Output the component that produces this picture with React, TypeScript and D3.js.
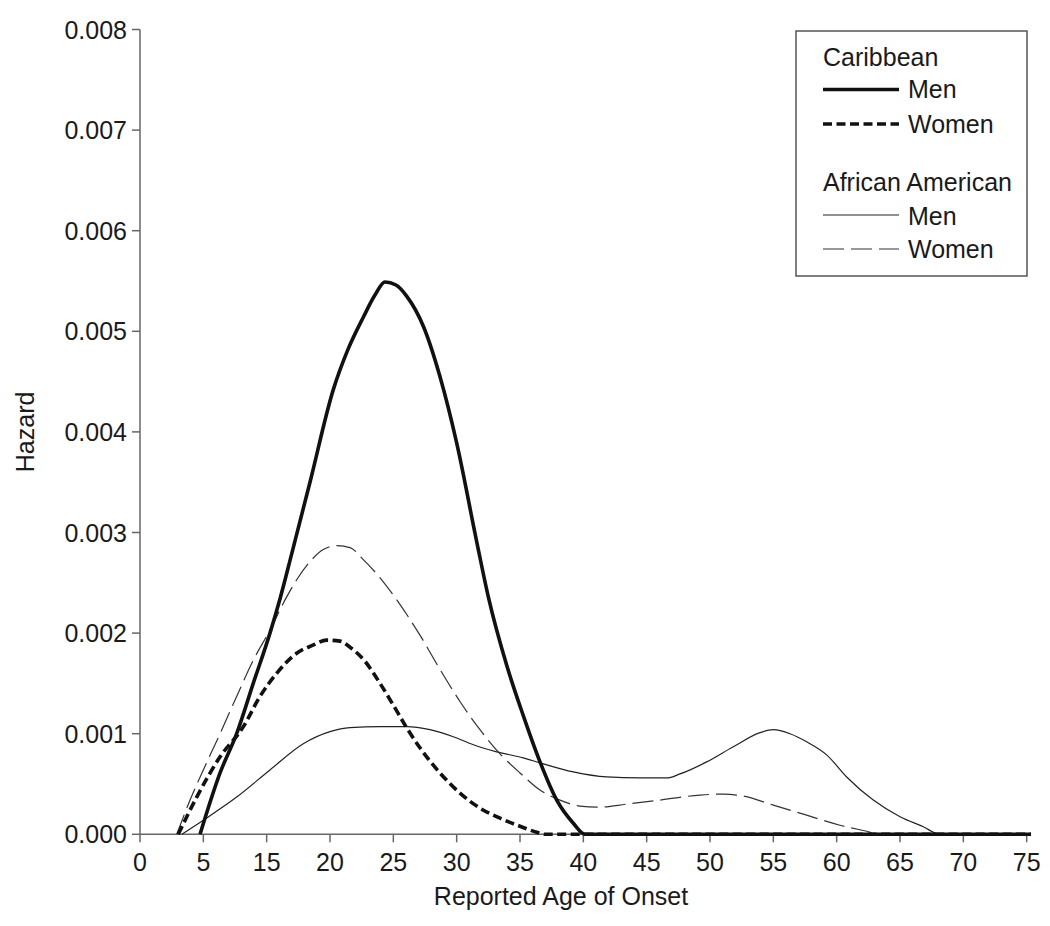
import React from 'react';
import * as d3 from 'd3';

// Axis ticks (the x tick labels are reproduced exactly as printed)
const xTickValues = [0, 5, 10, 15, 20, 25, 30, 35, 40, 45, 50, 55, 60, 65, 70];
const xTickLabels = ['0', '5', '15', '20', '25', '30', '35', '40', '45', '50', '55', '60', '65', '70', '75'];
const yTickValues = [0, 0.001, 0.002, 0.003, 0.004, 0.005, 0.006, 0.007, 0.008];

// Caribbean men
const caribbeanMenAge = [4.74, 6.32, 7.63, 8.94, 10.26, 11.05, 12.0, 13.42, 15.26, 16.42, 17.63, 18.55, 19.34, 20.21, 21.05, 22.37, 23.68, 25.0, 26.58, 27.5, 28.95, 30.26, 31.58, 32.9, 34.21, 35.13, 70.34];
const caribbeanMenHazard = [0, 0.00061, 0.001, 0.0015, 0.002, 0.00234, 0.0028, 0.0035, 0.00442, 0.00482, 0.00514, 0.00536, 0.00549, 0.00546, 0.00535, 0.00505, 0.00455, 0.00389, 0.00291, 0.00236, 0.00168, 0.00118, 0.00072, 0.00034, 0.00011, 0, 0];

// Caribbean women
const caribbeanWomenAge = [3.02, 4.48, 6.32, 8.16, 9.47, 10.79, 12.37, 13.66, 14.74, 15.79, 16.58, 17.76, 18.95, 19.97, 21.05, 22.1, 23.68, 25.26, 26.84, 28.42, 30.0, 31.32, 31.97, 70.34];
const caribbeanWomenHazard = [0, 0.00037, 0.00077, 0.00107, 0.00137, 0.0016, 0.0018, 0.00188, 0.00193, 0.00192, 0.00186, 0.00172, 0.0015, 0.00129, 0.00106, 0.00086, 0.00061, 0.00041, 0.00026, 0.00016, 0.00008, 0.00002, 0, 0];

// African American men
const aaMenAge = [3.3, 5.0, 7.63, 10.26, 12.89, 15.0, 16.58, 18.95, 21.05, 22.89, 24.74, 26.32, 28.16, 30.26, 31.58, 34.21, 36.84, 39.47, 41.58, 42.63, 44.74, 46.84, 48.95, 50.0, 51.32, 52.63, 54.21, 55.79, 57.89, 60.0, 61.84, 63.16, 70.34];
const aaMenHazard = [0, 0.00014, 0.00037, 0.00064, 0.0009, 0.00102, 0.00106, 0.00107, 0.00107, 0.00104, 0.00097, 0.00089, 0.00082, 0.00076, 0.00071, 0.00062, 0.00057, 0.00056, 0.00056, 0.0006, 0.00072, 0.00087, 0.00101, 0.00104, 0.001, 0.00092, 0.00079, 0.00057, 0.00034, 0.000175, 0.000075, 0, 0];

// African American women
const aaWomenAge = [2.9, 3.95, 5.0, 6.32, 7.63, 8.94, 10.26, 11.45, 12.37, 13.42, 14.47, 15.55, 16.58, 17.63, 18.95, 20.27, 22.1, 23.68, 25.26, 26.84, 28.42, 30.0, 31.58, 33.16, 34.74, 36.32, 38.42, 41.05, 44.21, 46.05, 47.63, 50.0, 52.63, 55.26, 57.37, 58.42, 70.34];
const aaWomenHazard = [0, 0.00034, 0.00064, 0.001, 0.00137, 0.00173, 0.00203, 0.00233, 0.00253, 0.00271, 0.00283, 0.00287, 0.00285, 0.00273, 0.00255, 0.00233, 0.00198, 0.00164, 0.00132, 0.00104, 0.0008, 0.00061, 0.00044, 0.00034, 0.00028, 0.00027, 0.0003, 0.00034, 0.00039, 0.0004, 0.00038, 0.00029, 0.00019, 0.00009, 0.00003, 0, 0];

const FONT = '"Liberation Sans", Arial, Helvetica, sans-serif';

export default function App() {
  const W = 1050;
  const H = 926;
  const x = d3.scaleLinear().domain([0, 70]).range([140, 1026.67]);
  const y = d3.scaleLinear().domain([0, 0.008]).range([834.3, 29.5]);

  const line = d3
    .line<[number, number]>()
    .x((d) => x(d[0]))
    .y((d) => y(d[1]))
    .curve(d3.curveMonotoneX);

  const zip = (a: number[], b: number[]) => a.map((v, i) => [v, b[i]] as [number, number]);

  const series = [
    { key: 'aaMen', pts: zip(aaMenAge, aaMenHazard), w: 1.2, dash: undefined, color: '#222' },
    { key: 'aaWomen', pts: zip(aaWomenAge, aaWomenHazard), w: 1.2, dash: '21,7', color: '#333' },
    { key: 'carWomen', pts: zip(caribbeanWomenAge, caribbeanWomenHazard), w: 3.6, dash: '9,4.5', color: '#111' },
    { key: 'carMen', pts: zip(caribbeanMenAge, caribbeanMenHazard), w: 3.6, dash: undefined, color: '#111' },
  ];

  const axisColor = '#666';
  const textColor = '#1a1a1a';

  const legendX0 = 823;
  const legendX1 = 899;
  const legendTextX = 908;

  return (
    <svg
      width={W}
      height={H}
      style={{ position: 'absolute', left: 0, top: 0, display: 'block', background: '#fff' }}
      fontFamily={FONT}
    >
      <rect x={0} y={0} width={W} height={H} fill="#fff" />

      {/* Y axis */}
      <line x1={x(0)} x2={x(0)} y1={y(0.008)} y2={y(0)} stroke={axisColor} strokeWidth={1.5} />
      {yTickValues.map((t) => (
        <g key={'yt' + t}>
          <line x1={x(0) - 8} x2={x(0)} y1={y(t)} y2={y(t)} stroke={axisColor} strokeWidth={1.5} />
          <text x={127} y={y(t) + 9} textAnchor="end" fontSize={25} fill={textColor}>
            {d3.format('.3f')(t)}
          </text>
        </g>
      ))}

      {/* X axis */}
      <line x1={x(0)} x2={x(70.34)} y1={y(0)} y2={y(0)} stroke={axisColor} strokeWidth={1.5} />
      {xTickValues.map((t, i) => (
        <g key={'xt' + t}>
          <line x1={x(t)} x2={x(t)} y1={y(0)} y2={y(0) + 8} stroke={axisColor} strokeWidth={1.5} />
          <text x={x(t)} y={871} textAnchor="middle" fontSize={25} fill={textColor}>
            {xTickLabels[i]}
          </text>
        </g>
      ))}

      {/* Axis titles */}
      <text x={561} y={905} textAnchor="middle" fontSize={25} fill={textColor}>
        Reported Age of Onset
      </text>
      <text
        transform={`translate(34, ${y(0.004)}) rotate(-90)`}
        textAnchor="middle"
        fontSize={25}
        fill={textColor}
      >
        Hazard
      </text>

      {/* Curves */}
      {series.map((s) => (
        <path
          key={s.key}
          d={line(s.pts) || ''}
          fill="none"
          stroke={s.color}
          strokeWidth={s.w}
          strokeDasharray={s.dash}
          strokeLinejoin="round"
        />
      ))}

      {/* Legend */}
      <rect x={796} y={31} width={231} height={245} fill="#fff" stroke="#555" strokeWidth={1.5} />
      <text x={legendX0} y={66} fontSize={25} fill={textColor}>Caribbean</text>
      <line x1={legendX0} x2={legendX1} y1={89.5} y2={89.5} stroke="#111" strokeWidth={3.6} />
      <text x={legendTextX} y={98} fontSize={25} fill={textColor}>Men</text>
      <line x1={legendX0} x2={legendX1} y1={124} y2={124} stroke="#111" strokeWidth={3.6} strokeDasharray="9,4.5" />
      <text x={legendTextX} y={133} fontSize={25} fill={textColor}>Women</text>

      <text x={legendX0} y={191} fontSize={25} fill={textColor}>African American</text>
      <line x1={legendX0} x2={legendX1} y1={215} y2={215} stroke="#222" strokeWidth={1.2} />
      <text x={legendTextX} y={225} fontSize={25} fill={textColor}>Men</text>
      <line x1={legendX0} x2={legendX1} y1={249} y2={249} stroke="#333" strokeWidth={1.2} strokeDasharray="21,7" />
      <text x={legendTextX} y={258} fontSize={25} fill={textColor}>Women</text>
    </svg>
  );
}
